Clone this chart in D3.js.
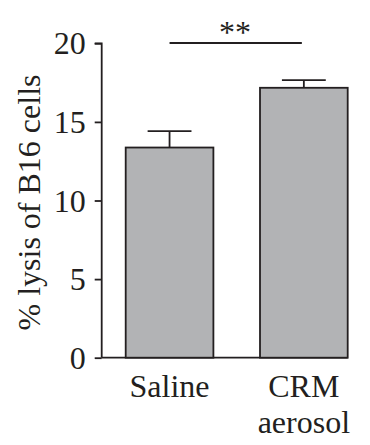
<!DOCTYPE html>
<html><head><meta charset="utf-8">
<script src="https://cdn.jsdelivr.net/npm/d3@7"></script>
<style>body{margin:0;background:#fff}svg{display:block}</style>
</head><body>
<script>
const categories = ["Saline", "CRM aerosol"];
const categoryLines = [["Saline"], ["CRM", "aerosol"]];
const values = [13.37, 17.17];
const errors = [1.04, 0.49];
const yTicks = [0, 5, 10, 15, 20];
const sigLabel = "**";
const yTitle = "% lysis of B16 cells";

const W = 370, H = 445;
const svg = d3.select("body").append("svg").attr("width", W).attr("height", H);
const font = '"Liberation Serif"';
const ink = "#231f20";
const fs = "32px";

const y = d3.scaleLinear().domain([0, 20]).range([357.7, 43.3]);
const x = d3.scaleBand().domain(categories).range([125.7, 347.7]).paddingInner(0.347).paddingOuter(0);
const axisX = 101.7;

// y axis
const yAxis = d3.axisLeft(y).tickValues(yTicks).tickSize(7).tickPadding(9).tickFormat(d3.format("d"));
const gy = svg.append("g").attr("transform", `translate(${axisX},0)`).call(yAxis);
gy.select(".domain").attr("stroke", ink).attr("stroke-width", 1.8).attr("d", `M-7,${y(20)}H0V${y(0)}`);
gy.selectAll(".tick line").attr("stroke", ink).attr("stroke-width", 1.8);
gy.selectAll(".tick text").attr("fill", ink).attr("dy", "0.33em")
  .style("font-family", font).style("font-size", fs);

// baseline
svg.append("line").attr("x1", axisX).attr("x2", x.range()[1]).attr("y1", y(0)).attr("y2", y(0))
  .attr("stroke", ink).attr("stroke-width", 1.8);

// bars
svg.selectAll("rect.bar").data(categories).enter().append("rect").attr("class", "bar")
  .attr("x", d => x(d)).attr("width", x.bandwidth())
  .attr("y", (d, i) => y(values[i])).attr("height", (d, i) => y(0) - y(values[i]))
  .attr("fill", "#b2b3b5").attr("stroke", ink).attr("stroke-width", 1.8);

// error bars
const cap = x.bandwidth() / 2;
categories.forEach((d, i) => {
  const cx = x(d) + x.bandwidth() / 2;
  svg.append("line").attr("x1", cx).attr("x2", cx).attr("y1", y(values[i])).attr("y2", y(values[i] + errors[i]))
    .attr("stroke", ink).attr("stroke-width", 1.8);
  svg.append("line").attr("x1", cx - cap / 2).attr("x2", cx + cap / 2)
    .attr("y1", y(values[i] + errors[i])).attr("y2", y(values[i] + errors[i]))
    .attr("stroke", ink).attr("stroke-width", 1.8);
});

// x labels
categories.forEach((d, i) => {
  const cx = x(d) + x.bandwidth() / 2;
  categoryLines[i].forEach((t, j) => {
    svg.append("text").attr("x", cx).attr("y", 396.5 + j * 36.5).attr("text-anchor", "middle")
      .style("font-family", font).style("font-size", fs).attr("fill", ink).text(t);
  });
});

// significance
const c0 = x(categories[0]) + x.bandwidth() / 2, c1 = x(categories[1]) + x.bandwidth() / 2;
svg.append("line").attr("x1", c0).attr("x2", c1 - 2).attr("y1", 43).attr("y2", 43)
  .attr("stroke", ink).attr("stroke-width", 2);
svg.append("text").attr("x", 235).attr("y", 42.5).attr("text-anchor", "middle")
  .style("font-family", font).style("font-size", fs).attr("fill", ink).text(sigLabel);

// y title
svg.append("text").attr("transform", `translate(40,202.5) rotate(-90)`)
  .attr("text-anchor", "middle").style("font-family", font).style("font-size", fs).attr("fill", ink).text(yTitle);
</script>
</body></html>
